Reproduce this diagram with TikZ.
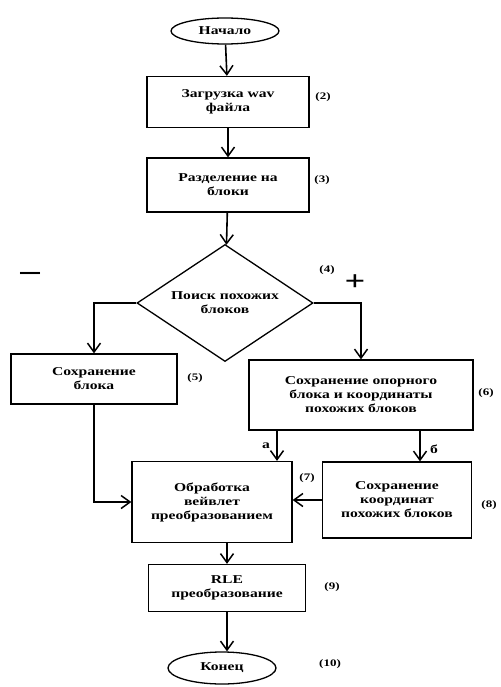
\documentclass[tikz,border=0pt]{standalone}
\usepackage{fontspec}
\setmainfont{Liberation Serif}[FakeStretch=1.3]
\usepackage{tikz}
\usetikzlibrary{positioning, arrows.meta, shapes.geometric}

\begin{document}
\begin{tikzpicture}[x=1pt, y=-1pt,
  every node/.style={font=\bfseries\fontsize{12}{14}\selectfont},
  blok/.style={draw, line width=1.3pt, rectangle, align=center, inner sep=2pt},
  term/.style={draw, line width=1.3pt, ellipse, minimum width=108pt, inner sep=0pt},
  cond/.style={draw, line width=1.3pt, diamond, aspect=1.5, align=center, minimum width=176pt, minimum height=117pt, inner sep=0pt},
  num/.style={font=\bfseries\fontsize{10}{11}\selectfont},
  arr/.style={-{Straight Barb[length=9pt, width=13pt, line width=1.5pt]}, line width=1.6pt},
  lin/.style={line width=1.5pt}]
\useasboundingbox (0,0) rectangle (500,687);
\node[term, minimum height=26pt] (start) at (225,31) {Начало};
\node[blok, minimum width=162pt, minimum height=51pt] (load) at (228,102) {Загрузка wav\\файла};
\node[blok, minimum width=162pt, minimum height=54pt] (split) at (228,185) {Разделение на\\блоки};
\node[cond] (search) at (225,303) {Поиск похожих\\блоков};
\node[blok, minimum width=166pt, minimum height=50pt] (save) at (94,379) {Сохранение\\блока};
\node[blok, minimum width=224pt, minimum height=70pt] (store) at (361,395) {Сохранение опорного\\блока и координаты\\похожих блоков};
\node[blok, minimum width=160pt, minimum height=81pt] (wave) at (212,502) {Обработка\\вейвлет\\преобразованием};
\node[blok, minimum width=149pt, minimum height=76pt] (coords) at (397,500) {Сохранение\\координат\\похожих блоков};
\node[blok, minimum width=157pt, minimum height=47pt] (rle) at (227,588) {RLE\\преобразование};
\node[term, minimum height=32pt] (stop) at (222,668) {Конец};
% номера блоков
\node[num] (n2) at (323,97) {(2)};
\node[num] (n3) at (322,180) {(3)};
\node[num] (n4) at (327,270) {(4)};
\node[num] (n5) at (195,378) {(5)};
\node[num] (n6) at (486,393) {(6)};
\node[num] (n7) at (307,478) {(7)};
\node[num] (n8) at (489,505) {(8)};
\node[num] (n9) at (332,587) {(9)};
\node[num] (n10) at (330,664) {(10)};
\node[font=\bfseries\fontsize{30}{30}\selectfont] (minus) at (30,276) {–};
\node[font=\bfseries\fontsize{28}{28}\selectfont] (plus) at (355,283) {+};
\node (la) at (266,446) {а};
\node (lb) at (434,449) {б};
\coordinate (ta) at (277,0);
\coordinate (tb) at (420,0);
\draw[arr] (start) -- (load);
\draw[arr] (load) -- (split);
\draw[arr] (split) -- (search);
\draw[arr] (search.west) -| (save.north);
\draw[arr] (search.east) -| (store.north);
\draw[arr] (store.south -| ta) -- (wave.north -| ta);
\draw[arr] (store.south -| tb) -- (coords.north -| tb);
\draw[arr] (coords.west) -- (coords.west -| wave.east);
\draw[arr] (save.south) |- (wave.west);
\draw[arr] (wave.south -| rle.north) -- (rle.north);
\draw[arr] (rle.south) -- (rle.south |- stop.north);
\end{tikzpicture}
\end{document}
